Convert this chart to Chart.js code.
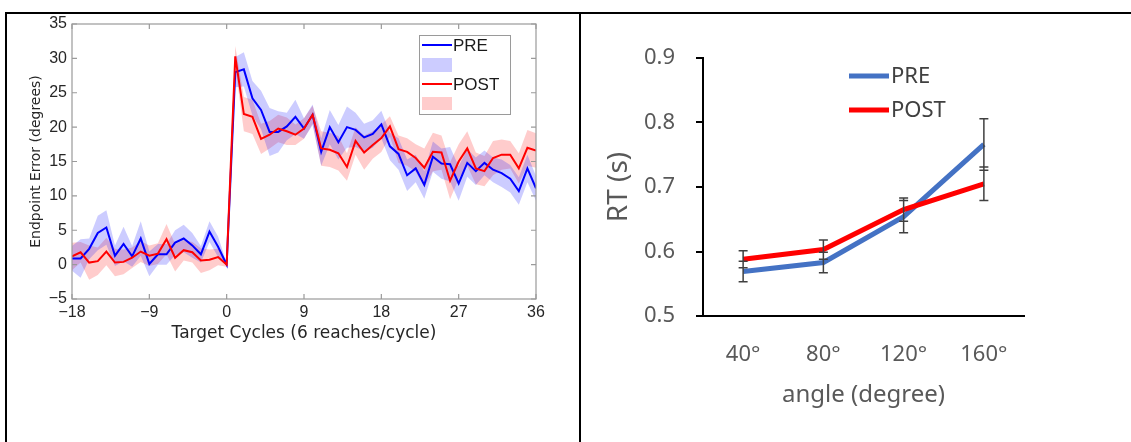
<!DOCTYPE html>
<html>
<head>
<meta charset="utf-8">
<script src="https://cdn.jsdelivr.net/npm/chart.js@4.4.0/dist/chart.umd.min.js"></script>
<style>
  html, body { margin: 0; padding: 0; background: #fff; }
  body { width: 1131px; height: 442px; position: relative; overflow: hidden; }
  .rule { position: absolute; background: #000; z-index: 2; }
  #left { position: absolute; left: 0; top: 0; width: 579px; height: 442px; }
  #right { position: absolute; left: 581px; top: 14px; width: 550px; height: 428px; }
</style>
</head>
<body>
<div class="rule" style="left:5px;top:12px;width:1126px;height:2px"></div>
<div class="rule" style="left:5px;top:12px;width:2px;height:430px"></div>
<div class="rule" style="left:579px;top:12px;width:2px;height:430px"></div>
<canvas id="left" width="579" height="442"></canvas>
<canvas id="right" width="550" height="428"></canvas>
<script>
// left panel: endpoint error per target cycle
const cycles = [-18, -17, -16, -15, -14, -13, -12, -11, -10, -9, -8, -7, -6, -5, -4, -3, -2, -1, 0,
  1, 2, 3, 4, 5, 6, 7, 8, 9, 10, 11, 12, 13, 14, 15, 16, 17, 18,
  19, 20, 21, 22, 23, 24, 25, 26, 27, 28, 29, 30, 31, 32, 33, 34, 35, 36];

const preMean = [0.9, 0.9, 2.3, 4.6, 5.4, 1.3, 3.0, 1.2, 3.8, 0.1, 1.5, 1.5, 3.2, 3.8, 2.8, 1.5, 4.8, 2.6, 0.0,
  28.0, 28.4, 24.2, 22.5, 19.3, 19.3, 20.1, 21.5, 19.8, 21.8, 16.4, 20.0, 17.8, 20.0, 19.6, 18.5, 19.0, 20.4,
  17.2, 16.1, 13.0, 14.0, 11.6, 15.7, 14.7, 14.6, 11.8, 14.8, 13.6, 14.8, 13.8, 13.3, 12.5, 10.7, 14.0, 11.1];
const preSem = [1.8, 2.8, 1.5, 2.5, 2.5, 1.5, 2.5, 1.5, 2.5, 1.8, 1.5, 1.5, 1.8, 2.0, 1.8, 1.2, 1.5, 1.5, 0.2,
  2.2, 2.5, 2.5, 2.8, 3.5, 3.0, 2.0, 2.5, 1.5, 1.5, 2.0, 2.5, 2.5, 3.0, 2.5, 2.0, 2.0, 2.0,
  2.0, 2.3, 2.3, 2.0, 2.0, 2.2, 2.2, 2.5, 2.5, 2.0, 2.0, 1.8, 1.8, 2.0, 2.0, 2.0, 2.0, 1.8];

const postMean = [1.2, 1.8, 0.3, 0.5, 1.9, 0.3, 0.4, 1.0, 1.9, 1.3, 1.6, 3.7, 1.0, 2.1, 1.8, 0.6, 0.7, 1.1, 0.0,
  30.3, 21.9, 21.5, 18.3, 18.9, 19.8, 19.4, 18.9, 19.8, 21.8, 16.9, 16.7, 16.2, 14.2, 18.0, 16.3, 17.4, 18.4,
  20.1, 16.8, 16.4, 15.5, 14.1, 16.4, 16.3, 12.2, 15.0, 16.9, 14.0, 13.6, 15.5, 16.0, 16.0, 14.0, 17.0, 16.6];
const postSem = [2.0, 1.5, 2.5, 2.0, 2.0, 2.0, 1.8, 1.5, 1.5, 1.5, 1.5, 2.2, 2.0, 1.5, 1.5, 1.8, 1.5, 1.2, 0.3,
  1.5, 2.5, 2.5, 2.2, 2.0, 2.0, 2.0, 1.5, 1.5, 1.3, 2.5, 2.5, 2.5, 2.0, 2.0, 2.5, 2.0, 2.0,
  1.5, 2.0, 2.0, 2.0, 2.8, 2.8, 2.5, 2.7, 2.5, 2.5, 2.3, 2.2, 2.5, 2.2, 2.0, 2.2, 2.6, 2.5];

const cycleTicks = [-18, -9, 0, 9, 18, 27, 36];

// right panel: reaction time per angle
const angles = ['40°', '80°', '120°', '160°'];
const rtPre = [0.569, 0.583, 0.654, 0.766];
const rtPreErr = [0.016, 0.016, 0.025, 0.040];
const rtPost = [0.588, 0.603, 0.665, 0.705];
const rtPostErr = [0.013, 0.015, 0.018, 0.026];

const pts = (vals) => cycles.map((c, i) => ({ x: c, y: vals[i] }));
const band = (vals, err, sign) => cycles.map((c, i) => ({ x: c, y: vals[i] + sign * err[i] }));
const minus = (v) => (v < 0 ? '\u2212' + Math.abs(v) : String(v));

const matlabBox = {
  id: 'matlabBox',
  afterDraw(chart) {
    const { ctx, chartArea: a, scales } = chart;
    ctx.save();
    ctx.strokeStyle = '#9a9a9a';
    ctx.lineWidth = 1.2;
    ctx.strokeRect(a.left, a.top, a.right - a.left, a.bottom - a.top);
    ctx.beginPath();
    cycleTicks.forEach((t) => {
      const x = scales.x.getPixelForValue(t);
      ctx.moveTo(x, a.bottom); ctx.lineTo(x, a.bottom - 5);
      ctx.moveTo(x, a.top); ctx.lineTo(x, a.top + 5);
    });
    scales.y.ticks.forEach((t) => {
      const y = scales.y.getPixelForValue(t.value);
      ctx.moveTo(a.left, y); ctx.lineTo(a.left + 5, y);
      ctx.moveTo(a.right, y); ctx.lineTo(a.right - 5, y);
    });
    ctx.stroke();

    // legend
    ctx.fillStyle = '#fff';
    ctx.fillRect(419, 35, 91, 79);
    ctx.strokeStyle = '#9a9a9a';
    ctx.lineWidth = 1;
    ctx.strokeRect(419.5, 35.5, 91, 79);
    ctx.lineWidth = 2;
    ctx.strokeStyle = '#0000ff';
    ctx.beginPath(); ctx.moveTo(422, 45); ctx.lineTo(452, 45); ctx.stroke();
    ctx.fillStyle = 'rgba(0,0,255,0.2)';
    ctx.fillRect(422, 58, 30, 14);
    ctx.strokeStyle = '#ff0000';
    ctx.beginPath(); ctx.moveTo(422, 84); ctx.lineTo(452, 84); ctx.stroke();
    ctx.fillStyle = 'rgba(255,0,0,0.2)';
    ctx.fillRect(422, 97, 30, 13);
    ctx.fillStyle = '#1a1a1a';
    ctx.font = '17px "Liberation Sans"';
    ctx.textBaseline = 'middle';
    ctx.fillText('PRE', 453, 46);
    ctx.fillText('POST', 453, 85);
    ctx.restore();
  }
};

new Chart(document.getElementById('left'), {
  type: 'line',
  data: {
    datasets: [
      { label: 'POST', data: pts(postMean), borderColor: '#ff0000', borderWidth: 2, pointRadius: 0, fill: false },
      { label: 'PRE', data: pts(preMean), borderColor: '#0000ff', borderWidth: 2, pointRadius: 0, fill: false },
      { data: band(preMean, preSem, 1), borderWidth: 0, pointRadius: 0, fill: '+1', backgroundColor: 'rgba(0,0,255,0.2)' },
      { data: band(preMean, preSem, -1), borderWidth: 0, pointRadius: 0, fill: false },
      { data: band(postMean, postSem, 1), borderWidth: 0, pointRadius: 0, fill: '+1', backgroundColor: 'rgba(255,0,0,0.2)' },
      { data: band(postMean, postSem, -1), borderWidth: 0, pointRadius: 0, fill: false }
    ]
  },
  options: {
    responsive: false,
    animation: false,
    layout: { padding: { left: 0, top: 24, right: 43, bottom: 98 } },
    plugins: { legend: { display: false }, tooltip: { enabled: false } },
    scales: {
      x: {
        type: 'linear', min: -18, max: 36,
        afterBuildTicks: (s) => { s.ticks = cycleTicks.map((v) => ({ value: v })); },
        ticks: { callback: minus, padding: 4, color: '#262626', font: { family: 'Liberation Sans', size: 16 } },
        grid: { display: false, drawTicks: false },
        border: { display: false },
        title: { display: true, text: 'Target Cycles (6 reaches/cycle)', color: '#262626', padding: 0,
          font: { family: 'DejaVu Sans', size: 17 } },
        afterFit: (s) => { s.height = 45; s.paddingLeft = 0; s.paddingRight = 0; }
      },
      y: {
        min: -5, max: 35,
        ticks: { stepSize: 5, callback: minus, padding: 5, color: '#262626', font: { family: 'Liberation Sans', size: 16 } },
        grid: { display: false, drawTicks: false },
        border: { display: false },
        title: { display: true, text: 'Endpoint Error (degrees)', color: '#262626', padding: { top: 28, bottom: 0 },
          font: { family: 'DejaVu Sans', size: 14 } },
        afterFit: (s) => { s.width = 72; s.paddingTop = 0; s.paddingBottom = 0; }
      }
    }
  },
  plugins: [matlabBox]
});

const errorBars = {
  id: 'errorBars',
  afterDatasetsDraw(chart) {
    const { ctx, scales } = chart;
    const sets = [[rtPre, rtPreErr], [rtPost, rtPostErr]];
    ctx.save();
    ctx.strokeStyle = '#404040';
    ctx.lineWidth = 1.5;
    ctx.beginPath();
    sets.forEach(([vals, errs]) => {
      vals.forEach((v, i) => {
        const x = scales.x.getPixelForValue(i);
        const y1 = scales.y.getPixelForValue(v + errs[i]);
        const y2 = scales.y.getPixelForValue(v - errs[i]);
        ctx.moveTo(x, y1); ctx.lineTo(x, y2);
        ctx.moveTo(x - 4.5, y1); ctx.lineTo(x + 4.5, y1);
        ctx.moveTo(x - 4.5, y2); ctx.lineTo(x + 4.5, y2);
      });
    });
    ctx.stroke();

    // legend
    ctx.lineWidth = 5;
    ctx.strokeStyle = '#4472c4';
    ctx.beginPath(); ctx.moveTo(268, 62); ctx.lineTo(308, 62); ctx.stroke();
    ctx.strokeStyle = '#ff0000';
    ctx.beginPath(); ctx.moveTo(268, 96); ctx.lineTo(308, 96); ctx.stroke();
    ctx.fillStyle = '#404040';
    ctx.font = '22px "Noto Sans"';
    ctx.textBaseline = 'middle';
    ctx.fillText('PRE', 310, 63);
    ctx.fillText('POST', 310, 97);
    ctx.restore();
  }
};

new Chart(document.getElementById('right'), {
  type: 'line',
  data: {
    labels: angles,
    datasets: [
      { label: 'POST', data: rtPost, borderColor: '#ff0000', borderWidth: 5, pointRadius: 0, fill: false },
      { label: 'PRE', data: rtPre, borderColor: '#4472c4', borderWidth: 5, pointRadius: 0, fill: false }
    ]
  },
  options: {
    responsive: false,
    animation: false,
    layout: { padding: { left: 0, top: 44, right: 107, bottom: 32.6 } },
    plugins: { legend: { display: false }, tooltip: { enabled: false } },
    scales: {
      x: {
        offset: true,
        ticks: { padding: 26, color: '#595959', font: { family: 'Noto Sans', size: 22 } },
        grid: { display: true, drawOnChartArea: false, drawTicks: false },
        border: { color: '#000', width: 2 },
        title: { display: true, text: 'angle (degree)', color: '#595959', padding: 0,
          font: { family: 'Noto Sans', size: 24 } },
        afterFit: (s) => { s.height = 93.4; s.paddingLeft = 0; s.paddingRight = 0; }
      },
      y: {
        min: 0.5, max: 0.9,
        ticks: { stepSize: 0.1, callback: (v) => v.toFixed(1), padding: 21, color: '#595959',
          font: { family: 'Noto Sans', size: 22 } },
        grid: { drawOnChartArea: false, color: '#000', lineWidth: 2, tickLength: 7 },
        border: { color: '#000', width: 2 },
        title: { display: true, text: 'RT (s)', color: '#595959', padding: { top: 21, bottom: 0 },
          font: { family: 'Noto Sans', size: 28 } },
        afterFit: (s) => { s.width = 122; s.paddingTop = 0; s.paddingBottom = 0; }
      }
    }
  },
  plugins: [errorBars]
});
</script>
</body>
</html>
